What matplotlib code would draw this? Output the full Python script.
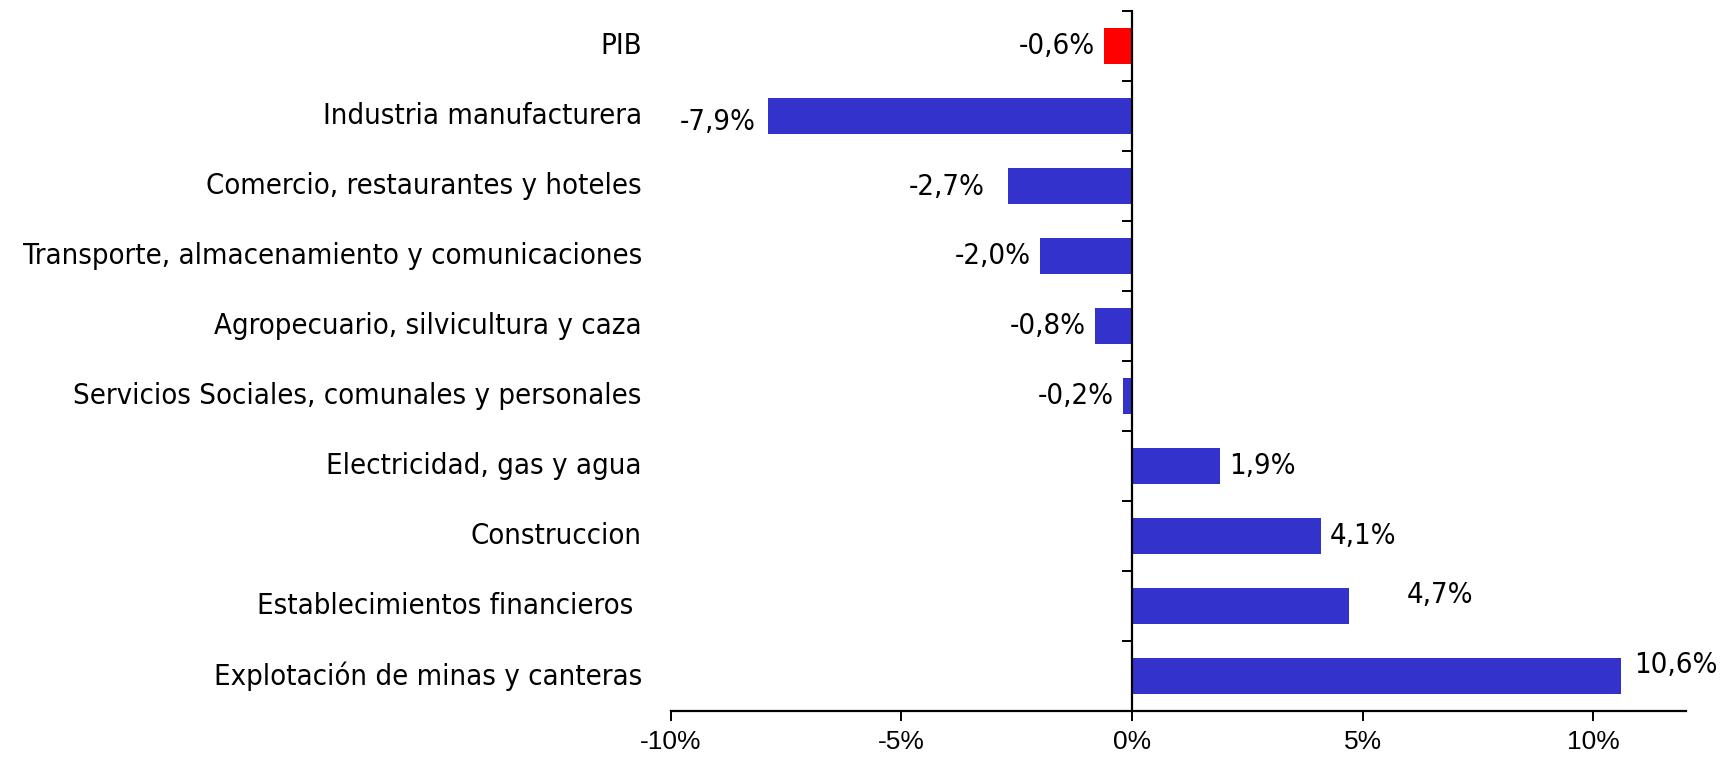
"""Crecimiento del PIB por sector: barras horizontales."""

import matplotlib
matplotlib.use("Agg")
import matplotlib.pyplot as plt
from matplotlib import font_manager
from matplotlib.font_manager import FontProperties
from matplotlib.transforms import blended_transform_factory

SECTORES = [
    "PIB",
    "Industria manufacturera",
    "Comercio, restaurantes y hoteles",
    "Transporte, almacenamiento y comunicaciones",
    "Agropecuario, silvicultura y caza",
    "Servicios Sociales, comunales y personales",
    "Electricidad, gas y agua",
    "Construccion",
    "Establecimientos financieros ",
    "Explotación de minas y canteras",
]
VARIACION = [-0.6, -7.9, -2.7, -2.0, -0.8, -0.2, 1.9, 4.1, 4.7, 10.6]
X_TICKS = [-10, -5, 0, 5, 10]

# desplazamientos de etiquetas (pt): (separacion, dy)
AJUSTES = {1: (9, -4), 2: (16.5, -1), 8: (42, 8), 9: (9.5, 8)}

# fuente estrecha para los textos: DejaVu Sans Condensed si existe
cond = [f for f in font_manager.fontManager.ttflist
        if f.name == "DejaVu Sans" and f.stretch == "condensed"
        and f.style == "normal" and f.weight in (400, "normal")]
if cond:
    label_font = FontProperties(fname=cond[0].fname, size=21)
else:
    label_font = FontProperties(family="Liberation Sans", size=21)

plt.rcParams["font.family"] = ["Liberation Sans", "DejaVu Sans"]

fig = plt.figure(figsize=(17.2, 7.58), dpi=100)
ax = fig.add_axes([0.390, 0.062, 0.590, 0.9235])

colors = ["#FF0000"] + ["#3333CC"] * (len(SECTORES) - 1)
ypos = list(range(len(SECTORES)))
ax.barh(ypos, VARIACION, height=0.52, color=colors, zorder=2)

ax.set_xlim(-10, 12)
ax.set_ylim(len(SECTORES) - 0.5, -0.5)

ax.spines["top"].set_visible(False)
ax.spines["right"].set_visible(False)
ax.spines["left"].set_position(("data", 0))
ax.spines["left"].set_linewidth(1.6)
ax.spines["bottom"].set_linewidth(1.6)

ax.set_yticks([i - 0.5 for i in range(len(SECTORES) + 1)])
ax.set_yticklabels([])
ax.tick_params(axis="y", length=7, width=1.4, direction="out")

ax.set_xticks(X_TICKS)
ax.set_xticklabels([f"{t}%" for t in X_TICKS], fontsize=19)
ax.tick_params(axis="x", length=7, width=1.4, direction="out", pad=7)

trans = blended_transform_factory(ax.transAxes, ax.transData)
for i, name in enumerate(SECTORES):
    ax.text(-0.0286, i, name, transform=trans, ha="right", va="center",
            fontproperties=label_font)

for i, v in enumerate(VARIACION):
    off, dy = AJUSTES.get(i, (6.5, 0))
    txt = f"{v:.1f}%".replace(".", ",")
    ax.annotate(txt, (v, i), xytext=(off if v > 0 else -off, dy),
                textcoords="offset points", ha="left" if v > 0 else "right",
                va="center", fontproperties=label_font)

fig.savefig("out.png", dpi=100)
